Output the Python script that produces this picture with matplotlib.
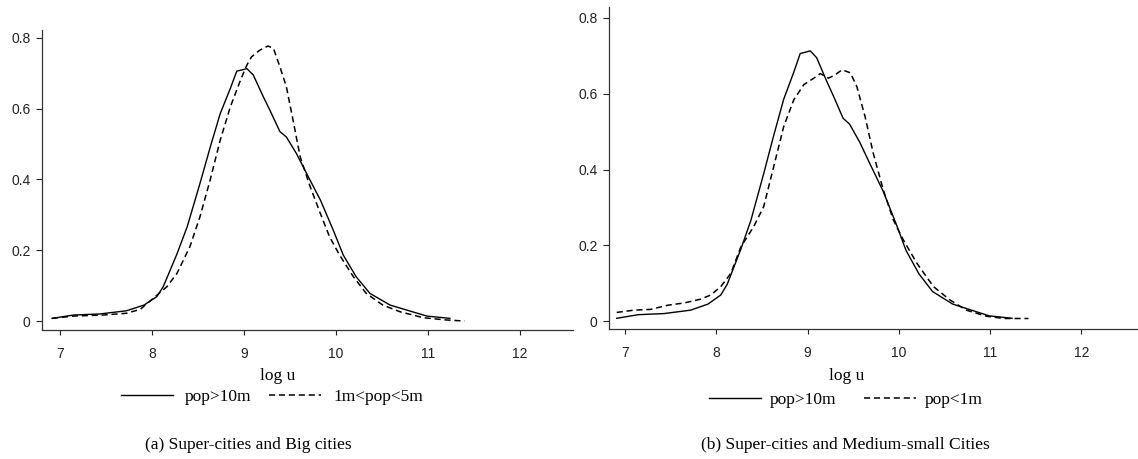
import matplotlib.pyplot as plt

# density curves (log u, density)
super_x = [6.91, 7.145, 7.43, 7.72, 7.91, 8.05, 8.12, 8.27, 8.38, 8.52, 8.63, 8.74,
           8.85, 8.92, 8.97, 9.03, 9.10, 9.21, 9.28, 9.39, 9.46, 9.57, 9.68, 9.83,
           9.97, 10.08, 10.22, 10.37, 10.59, 10.77, 10.99, 11.24]
super_y = [0.0075, 0.017, 0.020, 0.029, 0.045, 0.069, 0.097, 0.19, 0.266, 0.389, 0.49, 0.586,
           0.657, 0.706, 0.709, 0.713, 0.695, 0.633, 0.596, 0.535, 0.52, 0.473, 0.417, 0.342,
           0.257, 0.186, 0.125, 0.078, 0.045, 0.031, 0.014, 0.0075]

big_x = [6.91, 7.145, 7.47, 7.72, 7.87, 8.01, 8.16, 8.27, 8.41, 8.52, 8.63, 8.74,
         8.85, 8.96, 9.03, 9.08, 9.17, 9.26, 9.32, 9.39, 9.46, 9.54, 9.61, 9.72,
         9.83, 9.93, 10.04, 10.19, 10.33, 10.51, 10.70, 10.95, 11.20, 11.40]
big_y = [0.0075, 0.014, 0.017, 0.022, 0.033, 0.064, 0.097, 0.135, 0.21, 0.295, 0.398, 0.511,
         0.605, 0.68, 0.723, 0.746, 0.765, 0.777, 0.77, 0.718, 0.662, 0.558, 0.464, 0.379,
         0.304, 0.238, 0.186, 0.125, 0.078, 0.045, 0.026, 0.0094, 0.003, 0.0]

small_x = [6.91, 7.10, 7.28, 7.47, 7.65, 7.83, 7.94, 8.05, 8.16, 8.27, 8.41, 8.52,
           8.63, 8.74, 8.85, 8.96, 9.07, 9.14, 9.23, 9.29, 9.38, 9.47, 9.54, 9.63,
           9.72, 9.83, 9.94, 10.05, 10.20, 10.38, 10.56, 10.74, 10.96, 11.15, 11.42]
small_y = [0.023, 0.029, 0.031, 0.042, 0.048, 0.058, 0.069, 0.091, 0.126, 0.196, 0.249, 0.302,
           0.408, 0.514, 0.584, 0.624, 0.641, 0.653, 0.641, 0.648, 0.663, 0.655, 0.619, 0.540,
           0.443, 0.346, 0.267, 0.214, 0.152, 0.091, 0.056, 0.029, 0.013, 0.007, 0.007]

x_ticks = [7, 8, 9, 10, 11, 12]
y_ticks = [0, 0.2, 0.4, 0.6, 0.8]
y_labels = ['0', '0.2', '0.4', '0.6', '0.8']

serif = 'Liberation Serif'
sans = 'Liberation Sans'

fig = plt.figure(figsize=(11.38, 4.59), dpi=100)
ax1 = fig.add_axes([0.0369, 0.281, 0.4666, 0.654])
ax2 = fig.add_axes([0.5351, 0.283, 0.4649, 0.702])

panels = [
    (ax1, big_x, big_y, '1m<pop<5m', (6.8, 12.58), (-0.0254, 0.8226),
     -0.127, 0.444, (0.239, 0.135), 1.0, 0.7,
     '(a) Super-cities and Big cities', 0.218),
    (ax2, small_x, small_y, 'pop<1m', (6.825, 12.62), (-0.021, 0.829),
     -0.121, 0.45, (0.743, 0.128), 1.6, 0.5,
     '(b) Super-cities and Medium-small Cities', 0.7425),
]

for (ax, dx, dy, dlabel, xlim, ylim, lab_y, lab_x, leg_pos, colsp, txtpad,
     caption, cap_x) in panels:
    ax.plot(super_x, super_y, color='black', lw=1.0, label='pop>10m')
    ax.plot(dx, dy, color='black', lw=1.1, linestyle=(0, (4, 2.5)), label=dlabel)
    ax.set_xlim(*xlim)
    ax.set_ylim(*ylim)
    ax.set_xticks(x_ticks)
    ax.set_xticklabels([str(t) for t in x_ticks], fontfamily=sans, fontsize=10)
    ax.set_yticks(y_ticks)
    ax.set_yticklabels(y_labels, fontfamily=sans, fontsize=10)
    ax.tick_params(axis='x', length=3.6, width=0.8, pad=8.5, colors='#222222')
    ax.tick_params(axis='y', length=4.3, width=0.8, pad=4, colors='#222222')
    for side in ['top', 'right']:
        ax.spines[side].set_visible(False)
    for side in ['left', 'bottom']:
        ax.spines[side].set_linewidth(0.9)
        ax.spines[side].set_color('#333333')
    ax.set_xlabel('log u', fontfamily=serif, fontsize=12.5)
    ax.xaxis.set_label_coords(lab_x, lab_y)
    ax.legend(loc='center', bbox_to_anchor=leg_pos, bbox_transform=fig.transFigure,
              ncol=2, frameon=False, handlelength=3.0, columnspacing=colsp,
              handletextpad=txtpad, prop={'family': serif, 'size': 12.5})
    fig.text(cap_x, 0.0305, caption, ha='center', va='center',
             fontfamily=serif, fontsize=12.5)

fig.savefig('out.png', dpi=100)
